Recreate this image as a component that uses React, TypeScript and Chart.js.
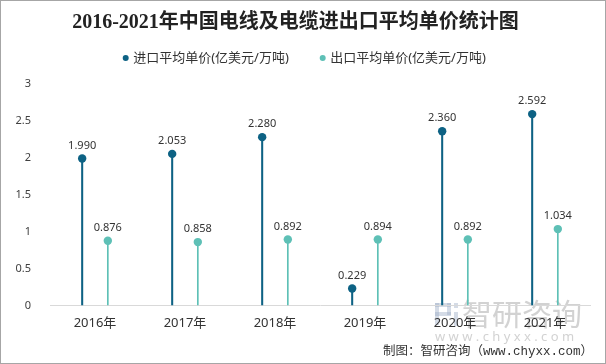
import React, { useEffect, useRef } from "react";
import { Chart, registerables } from "chart.js";

Chart.register(...registerables);

const TITLE = "2016-2021年中国电线及电缆进出口平均单价统计图";
const categories = ["2016年", "2017年", "2018年", "2019年", "2020年", "2021年"];
const importLabel = "进口平均单价(亿美元/万吨)";
const exportLabel = "出口平均单价(亿美元/万吨)";
const importValues = [1.99, 2.053, 2.28, 0.229, 2.36, 2.592];
const exportValues = [0.876, 0.858, 0.892, 0.894, 0.892, 1.034];
const yTicks = [0, 0.5, 1, 1.5, 2, 2.5, 3];
const SOURCE = "制图：智研咨询（www.chyxx.com）";
const WATERMARK = "智研咨询";
const WATERMARK_URL = "w w w . c h y x x . c o m";

const IMPORT_COLOR = "#0d6284";
const EXPORT_COLOR = "#5ec0b6";
const FONT = '"Noto Sans", "Noto Sans CJK SC", sans-serif';

const lollipopPlugin = {
  id: "lollipop",
  beforeDraw(chart: any) {
    const ctx = chart.ctx;
    ctx.save();
    // watermark logo
    ctx.fillStyle = "rgba(160,175,200,0.45)";
    const lx = 434, ly = 302;
    ctx.fillRect(lx, ly, 16, 4);
    ctx.fillRect(lx, ly, 4, 22);
    ctx.fillRect(lx + 12, ly, 4, 12);
    ctx.fillRect(lx, ly + 9, 16, 4);
    ctx.fillRect(lx + 19, ly + 9, 4, 14);
    ctx.fillRect(lx + 19, ly, 4, 5);
    ctx.fillStyle = "rgba(165,165,165,0.5)";
    ctx.font = `30px "Noto Sans CJK SC", sans-serif`;
    ctx.textAlign = "left";
    ctx.textBaseline = "middle";
    ctx.fillText(WATERMARK, 461, 313);
    ctx.font = `13px ${FONT}`;
    ctx.fillText(WATERMARK_URL, 434, 336);
    ctx.restore();
  },
  afterDatasetsDraw(chart: any) {
    const ctx = chart.ctx;
    ctx.save();
    chart.data.datasets.forEach((ds: any, i: number) => {
      const meta = chart.getDatasetMeta(i);
      meta.data.forEach((el: any, j: number) => {
        ctx.beginPath();
        ctx.arc(el.x, el.y, 4.2, 0, Math.PI * 2);
        ctx.fillStyle = ds.backgroundColor;
        ctx.fill();
        ctx.fillStyle = "#333333";
        ctx.font = `11px ${FONT}`;
        ctx.textAlign = "center";
        ctx.textBaseline = "middle";
        ctx.fillText(Number(ds.data[j]).toFixed(3), el.x, el.y - 13);
      });
    });
    // legend
    const items = chart.data.datasets.map((d: any) => ({ text: d.label, color: d.backgroundColor }));
    const xs = [124.7, 321.7];
    ctx.font = `13px ${FONT}`;
    ctx.textAlign = "left";
    ctx.textBaseline = "middle";
    items.forEach((it: any, k: number) => {
      ctx.beginPath();
      ctx.arc(xs[k], 57, 3, 0, Math.PI * 2);
      ctx.fillStyle = it.color;
      ctx.fill();
      ctx.fillStyle = "#333333";
      ctx.fillText(it.text, xs[k] + 7.5, 57);
    });
    // source
    ctx.font = `12.5px "Liberation Mono", "Noto Sans CJK SC", monospace`;
    ctx.textAlign = "right";
    ctx.fillStyle = "#333333";
    ctx.fillText(SOURCE, 592, 351);
    ctx.restore();
  },
};

export default function App() {
  const ref = useRef<HTMLCanvasElement | null>(null);
  useEffect(() => {
    document.body.style.margin = "0";
    if (!ref.current) return;
    const chart = new Chart(ref.current, {
      type: "bar",
      data: {
        labels: categories,
        datasets: [
          {
            label: importLabel,
            data: importValues,
            backgroundColor: IMPORT_COLOR,
            categoryPercentage: 0.57,
            barPercentage: 0.08,
          },
          {
            label: exportLabel,
            data: exportValues,
            backgroundColor: EXPORT_COLOR,
            categoryPercentage: 0.57,
            barPercentage: 0.065,
          },
        ],
      },
      options: {
        animation: false,
        responsive: false,
        maintainAspectRatio: false,
        layout: { padding: { left: 0, right: 15, top: 0, bottom: 22 } },
        plugins: {
          legend: { display: false },
          tooltip: { enabled: false },
          title: {
            display: true,
            text: TITLE,
            color: "#222222",
            font: { family: '"Liberation Serif", "Noto Sans CJK SC", serif', size: 20, weight: "bold" },
            padding: { top: 10, bottom: 49 },
          },
        },
        scales: {
          x: {
            grid: { display: false, drawTicks: false },
            border: { display: true, color: "#d9d9d9", width: 1 },
            ticks: { color: "#333333", font: { family: FONT, size: 13 }, padding: 10 },
          },
          y: {
            min: 0,
            max: 3,
            afterFit: (s: any) => { s.width = 49; },
            afterBuildTicks: (s: any) => { s.ticks = yTicks.map((v) => ({ value: v })); },
            grid: { display: false },
            border: { display: false },
            ticks: {
              color: "#404040",
              font: { family: FONT, size: 11 },
              padding: 11,
              callback: (v: any) => String(v),
            },
          },
        },
      },
      plugins: [lollipopPlugin],
    });
    return () => chart.destroy();
  }, []);
  return (
    <div style={{ width: 606, height: 364, border: "1px solid #a6a6a6", boxSizing: "border-box", background: "#fff" }}>
      <canvas ref={ref} width={604} height={362} style={{ display: "block" }} />
    </div>
  );
}
